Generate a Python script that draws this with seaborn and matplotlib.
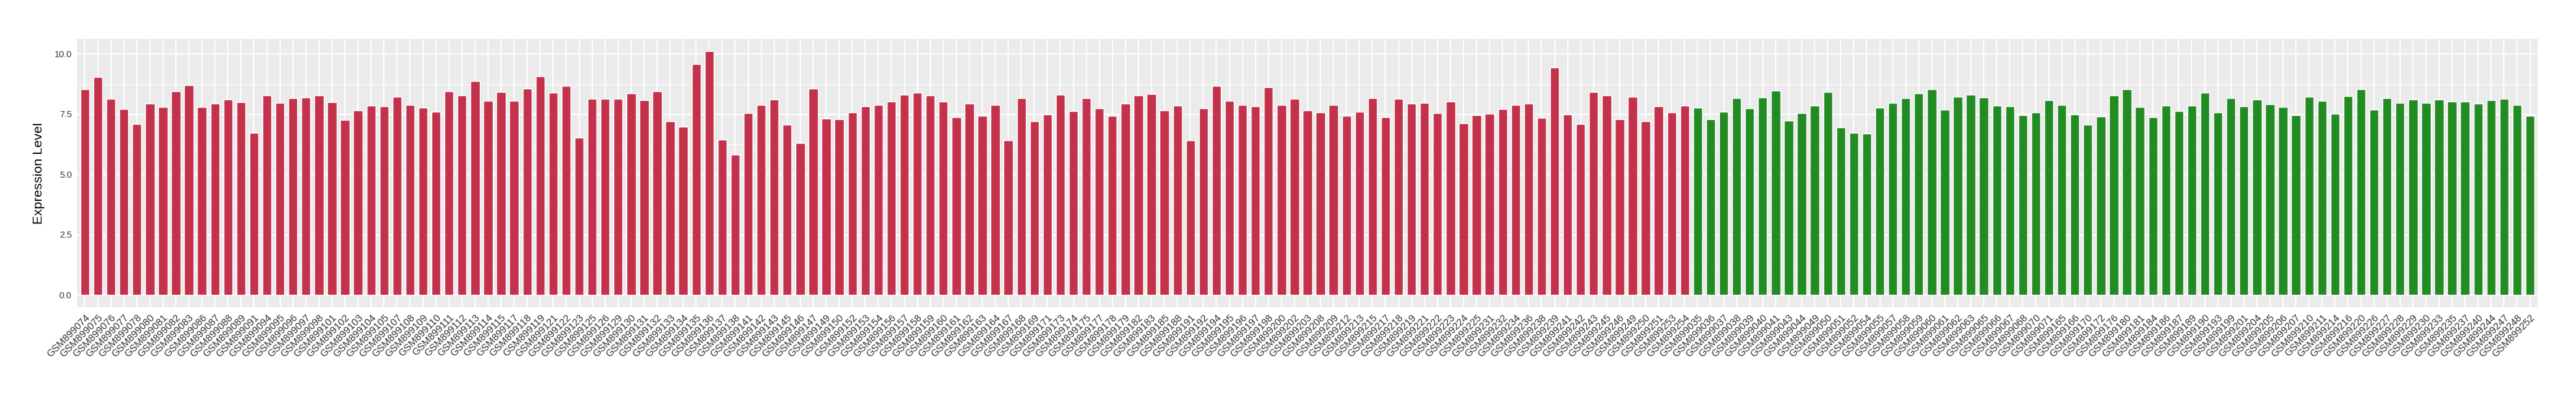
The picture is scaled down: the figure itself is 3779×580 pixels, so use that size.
import pandas as pd
import matplotlib
matplotlib.use('Agg')
import matplotlib.pyplot as plt
import seaborn as sns
from matplotlib.ticker import MultipleLocator

# sample ids, group 1 (red)
red_ids = [899074, 899075, 899076, 899077, 899078, 899080, 899081, 899082, 899083, 899086,
           899087, 899088, 899089, 899091, 899094, 899095, 899096, 899097, 899098, 899101,
           899102, 899103, 899104, 899105, 899107, 899108, 899109, 899110, 899111, 899112,
           899113, 899114, 899115, 899117, 899118, 899119, 899121, 899122, 899123, 899125,
           899126, 899129, 899130, 899131, 899132, 899133, 899134, 899135, 899136, 899137,
           899138, 899141, 899142, 899143, 899145, 899146, 899147, 899149, 899150, 899152,
           899153, 899154, 899156, 899157, 899158, 899159, 899160, 899161, 899162, 899163,
           899164, 899167, 899168, 899169, 899171, 899173, 899174, 899175, 899177, 899178,
           899179, 899182, 899183, 899185, 899188, 899191, 899192, 899194, 899195, 899196,
           899197, 899198, 899200, 899202, 899203, 899208, 899209, 899212, 899213, 899215,
           899217, 899218, 899219, 899221, 899222, 899223, 899224, 899225, 899231, 899232,
           899234, 899236, 899238, 899239, 899241, 899242, 899243, 899245, 899246, 899249,
           899250, 899251, 899253, 899254]
red_values = [8.54, 9.05, 8.15, 7.72, 7.10, 7.95, 7.81, 8.46, 8.71, 7.81,
              7.95, 8.12, 8.00, 6.73, 8.29, 7.98, 8.17, 8.20, 8.29, 8.00,
              7.27, 7.66, 7.86, 7.83, 8.23, 7.89, 7.78, 7.61, 8.46, 8.29,
              8.88, 8.06, 8.43, 8.06, 8.57, 9.08, 8.40, 8.68, 6.53, 8.15,
              8.15, 8.15, 8.37, 8.09, 8.46, 7.21, 6.99, 9.59, 10.12, 6.45,
              5.83, 7.55, 7.89, 8.12, 7.07, 6.31, 8.57, 7.33, 7.30, 7.58,
              7.83, 7.89, 8.03, 8.31, 8.40, 8.29, 8.03, 7.38, 7.95, 7.44,
              7.89, 6.42, 8.17, 7.21, 7.50, 8.31, 7.64, 8.17, 7.75, 7.44,
              7.95, 8.29, 8.34, 7.66, 7.86, 6.42, 7.75, 8.68, 8.06, 7.89,
              7.83, 8.63, 7.89, 8.15, 7.66, 7.58, 7.89, 7.44, 7.61, 8.17,
              7.38, 8.15, 7.95, 7.98, 7.55, 8.03, 7.13, 7.47, 7.52, 7.72,
              7.89, 7.95, 7.35, 9.44, 7.50, 7.10, 8.43, 8.29, 7.30, 8.23,
              7.21, 7.83, 7.58, 7.86]

# sample ids, group 2 (green)
green_ids = [899035, 899036, 899037, 899038, 899039, 899040, 899041, 899043, 899044, 899049,
             899050, 899051, 899052, 899054, 899055, 899057, 899058, 899059, 899060, 899061,
             899062, 899063, 899065, 899066, 899067, 899068, 899070, 899071, 899165, 899166,
             899170, 899172, 899176, 899180, 899181, 899184, 899186, 899187, 899189, 899190,
             899193, 899199, 899201, 899204, 899205, 899206, 899207, 899210, 899211, 899214,
             899216, 899220, 899226, 899227, 899228, 899229, 899230, 899233, 899235, 899237,
             899240, 899244, 899247, 899248, 899252]
green_values = [7.78, 7.30, 7.61, 8.17, 7.75, 8.20, 8.48, 7.24, 7.55, 7.86,
                8.43, 6.96, 6.73, 6.70, 7.78, 7.98, 8.17, 8.37, 8.54, 7.69,
                8.23, 8.31, 8.20, 7.86, 7.83, 7.47, 7.58, 8.09, 7.89, 7.50,
                7.07, 7.41, 8.29, 8.54, 7.81, 7.38, 7.86, 7.64, 7.86, 8.40,
                7.58, 8.17, 7.83, 8.12, 7.92, 7.81, 7.47, 8.23, 8.06, 7.52,
                8.26, 8.54, 7.69, 8.17, 7.98, 8.12, 7.98, 8.12, 8.03, 8.03,
                7.95, 8.09, 8.15, 7.89, 7.44]

df = pd.DataFrame({
    'sample': ['GSM' + str(i) for i in red_ids + green_ids],
    'value': red_values + green_values,
    'group': ['A'] * len(red_ids) + ['B'] * len(green_ids),
})

sns.set_theme(style='darkgrid')
plt.rcParams['font.family'] = ['Liberation Sans', 'DejaVu Sans']

fig = plt.figure(figsize=(37.8, 5.8), dpi=100)
ax = fig.add_axes([113 / 3780, 1 - 451.3 / 580, (3723 - 113) / 3780, (451.3 - 57.3) / 580])
ax.set_facecolor('#EBEBEB')

sns.barplot(data=df, x='sample', y='value', hue='group',
            palette={'A': '#C3314A', 'B': '#228B22'},
            dodge=False, width=0.7, legend=False, saturation=1, ax=ax, zorder=3)

ax.set_xlim(-0.6, len(df) - 0.4)
ax.set_ylim(-0.506, 10.626)
ax.yaxis.set_major_locator(MultipleLocator(2.5))
ax.yaxis.set_minor_locator(MultipleLocator(1.25))
ax.grid(which='major', color='white', linewidth=1.3, zorder=0)
ax.grid(which='minor', axis='y', color='white', linewidth=0.6, zorder=0)
ax.set_axisbelow(True)
for s in ax.spines.values():
    s.set_visible(False)

ax.set_yticks([0, 2.5, 5, 7.5, 10])
ax.set_yticklabels(['0.0', '2.5', '5.0', '7.5', '10.0'])
ax.tick_params(axis='both', which='major', length=3.5, width=1, color='#333333',
               labelcolor='#333333', pad=2)
ax.tick_params(axis='y', labelsize=9.5)
ax.tick_params(axis='x', labelsize=10.5)
ax.tick_params(which='minor', length=0)
plt.setp(ax.get_xticklabels(), rotation=45, ha='right', rotation_mode='anchor')

ax.set_xlabel('')
ax.set_ylabel('Expression Level', fontsize=14, color='black', labelpad=10)

fig.savefig('out.png', dpi=100)
